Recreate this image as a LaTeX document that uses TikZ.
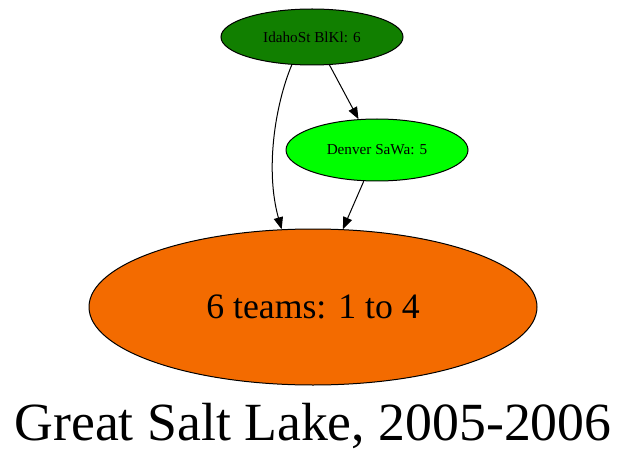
\documentclass[tikz,border=0pt]{standalone}
\usepackage{fontspec}
\setmainfont{Liberation Serif}
\usetikzlibrary{shapes.geometric,arrows.meta}

\definecolor{idahogreen}{RGB}{17,127,0}
\definecolor{denvergreen}{RGB}{0,255,0}
\definecolor{lakeorange}{RGB}{243,107,0}

\tikzset{
  team/.style={ellipse, draw=black, line width=0.75pt, inner sep=0pt, font=\fontsize{11.4}{13}\selectfont},
  edge/.style={line width=0.75pt, -{Triangle[length=9pt,width=7pt]}}
}

\begin{document}
\begin{tikzpicture}[x=0.75pt,y=-0.75pt]

\useasboundingbox (0,0) rectangle (627,463); % page size


%team nodes
\node [team, fill=idahogreen, minimum width=136.5pt, minimum height=42pt] (idaho) at (312,37) {IdahoSt BlKl: 6};
\node [team, fill=denvergreen, minimum width=136.5pt, minimum height=46.5pt] (denver) at (377,150) {Denver SaWa: 5};

%summary node
\node [team, fill=lakeorange, minimum width=336pt, minimum height=117pt, font=\fontsize{26.8}{30}\selectfont] (teams) at (313,307) {6 teams: 1 to 4};


%edges between the nodes
\draw [edge] (idaho.-126) .. controls (275,105) and (265,170) .. (teams.112); % long curved edge
\draw [edge] (idaho.-58) -- (denver.121); % idaho to denver
\draw [edge] (denver.-113) -- (teams.69); % denver to summary


%title underneath
\node [anchor=base, font=\fontsize{40.3}{46}\selectfont] (title) at (313,440) {Great Salt Lake, 2005-2006};

\end{tikzpicture}
\end{document}
